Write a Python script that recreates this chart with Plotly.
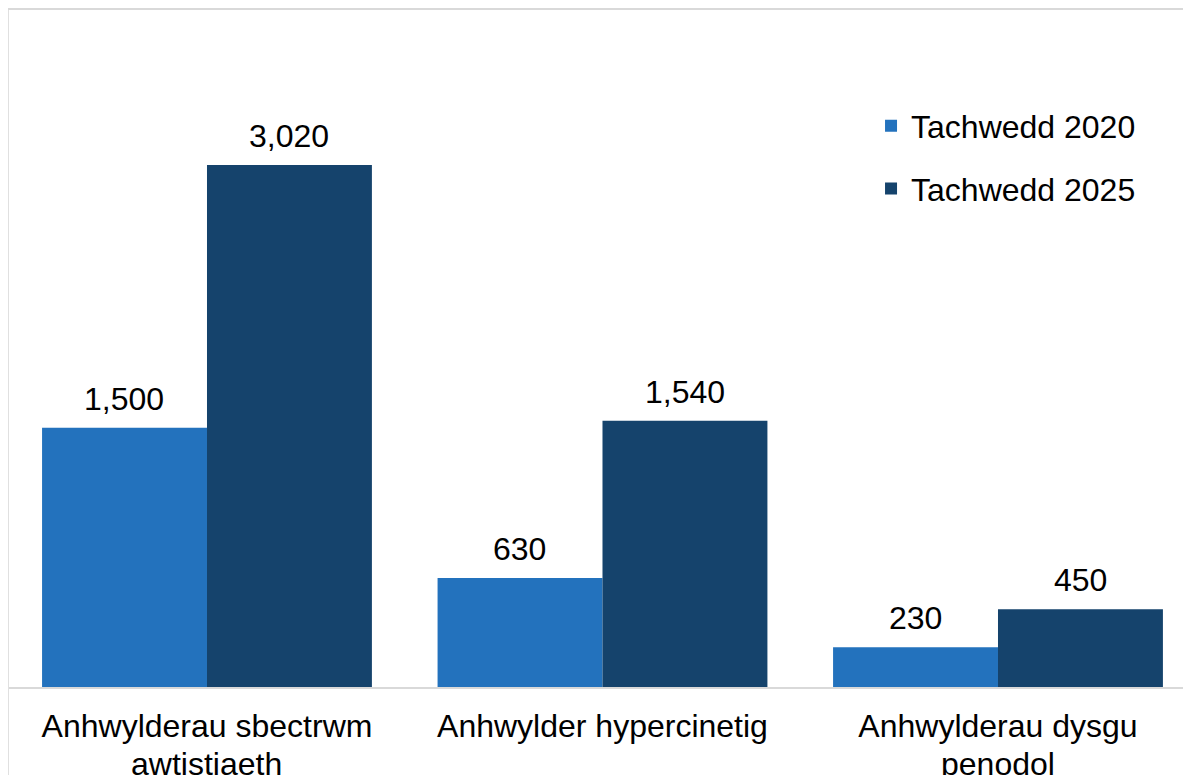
import plotly.graph_objects as go

categories = ["Anhwylderau sbectrwm awtistiaeth", "Anhwylder hypercinetig", "Anhwylderau dysgu penodol"]
label_line1 = ["Anhwylderau sbectrwm", "Anhwylder hypercinetig", "Anhwylderau dysgu"]
label_line2 = ["awtistiaeth", "", "penodol"]
series_names = ["Tachwedd 2020", "Tachwedd 2025"]
values_2020 = [1500, 630, 230]
values_2025 = [3020, 1540, 450]
colors = ["#2372BD", "#15436C"]

W, H = 1191, 775
ml, mt, mr, mb = 1, 1, 8, 96
FONT = "Liberation Sans, Arial"

fig = go.Figure()
annotations = []
for i, (name, vals, col) in enumerate(zip(series_names, [values_2020, values_2025], colors)):
    fig.add_trace(go.Bar(
        x=categories, y=vals, name=name, marker_color=col, marker_line_width=0,
        legendgroup=name,
    ))
    shift = -82.5 if i == 0 else 82.5
    for c, v in zip(categories, vals):
        annotations.append(dict(
            x=c, y=v, xref="x", yref="y", text=f"{v:,}", showarrow=False,
            xanchor="center", yanchor="bottom", xshift=shift, yshift=9,
            font=dict(size=32, color="#000000", family=FONT),
        ))

# second line of the category labels (tighter line spacing than plotly's default)
for c, t in zip(categories, label_line2):
    if t:
        annotations.append(dict(
            x=c, y=0, xref="x", yref="paper", text=t, showarrow=False,
            xanchor="center", yanchor="top", yshift=-57,
            font=dict(size=32, color="#000000", family=FONT),
        ))

fig.update_layout(
    width=W, height=H,
    margin=dict(l=ml, r=mr, t=mt, b=mb, pad=0),
    paper_bgcolor="white", plot_bgcolor="white",
    barmode="group", bargap=0.166, bargroupgap=0,
    font=dict(family=FONT, size=32, color="#000000"),
    showlegend=True,
    legend=dict(x=0.7293, y=0.868, xanchor="left", yanchor="top",
                font=dict(size=32, color="#000000"), tracegroupgap=18,
                bgcolor="rgba(0,0,0,0)"),
    xaxis=dict(type="category", range=[-0.5006, 2.488], showline=True, linecolor="#D9D9D9",
               linewidth=2, ticks="", showgrid=False, tickfont=dict(size=32),
               tickvals=categories, ticktext=label_line1,
               ticklabelstandoff=10, automargin=False),
    yaxis=dict(range=[0, 3923], visible=False, showgrid=False, zeroline=False,
               automargin=False),
    annotations=annotations,
    shapes=[dict(type="line", xref="paper", yref="paper", x0=-0.001, x1=1.01, y0=1.0, y1=1.0,
                 line=dict(color="#D9D9D9", width=2)),
            dict(type="line", xref="paper", yref="paper", x0=-0.001, x1=-0.001, y0=1.0, y1=-0.2,
                 line=dict(color="#D9D9D9", width=2))],
)

fig.write_html("out.html")
